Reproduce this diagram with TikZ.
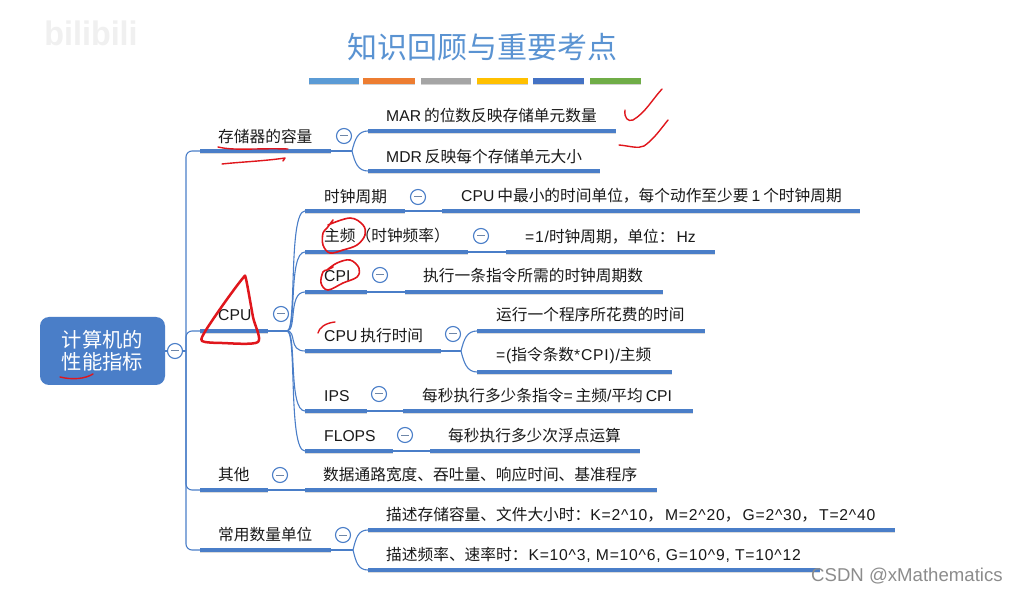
\documentclass[tikz,border=0pt]{standalone}
\usepackage{fontspec}
\setmainfont{Liberation Sans}
\newfontfamily\zh{Noto Sans CJK SC}
\newfontfamily\ls[LetterSpace=5]{Liberation Sans}
\usetikzlibrary{shadows}
\definecolor{mapblue}{HTML}{4A7EC8}
\definecolor{inkred}{HTML}{E0161C}
\definecolor{titleblue}{HTML}{5A93D2}
\tikzset{
  conn/.style={draw=mapblue,line width=1.1pt},
  barline/.style={draw=mapblue,line width=4.4pt},
  barshade/.style={draw=black!14,line width=4.4pt},
  lab/.style={anchor=west,inner sep=0pt,font=\fontsize{15.7}{18}\selectfont,text=black!90},
  btn/.style={circle,draw=mapblue,fill=white,line width=1.1pt,minimum size=15pt,inner sep=0pt},
  ink/.style={draw=inkred,line width=1.4pt,line cap=round,line join=round},
  inkb/.style={draw=inkred,line width=2.5pt,line cap=round,line join=round},
  swatch/.style={line width=5.5pt},
}
\newcommand{\gp}{\hspace{3pt}}
% name, x1, x2, ybar, text x, text y, text
\newcommand{\topicbar}[7]{%
  \coordinate (#1-l) at (#2,#4);
  \coordinate (#1-r) at (#3,#4);
  \draw[barshade] ([yshift=-0.8pt]#1-l) -- ([yshift=-0.8pt]#1-r);
  \draw[barline] (#1-l) -- (#1-r);
  \node[lab] (#1-t) at (#5,#6) {#7};
}
\newcommand{\minusbtn}[3]{%
  \node[btn] (#1) at (#2,#3) {};
  \draw[draw=black!35!mapblue!70!white,line width=1pt] ([xshift=-4pt]#1.center) -- ([xshift=4pt]#1.center);
}
\begin{document}
\begin{tikzpicture}[x=1pt,y=-1pt]
\useasboundingbox (0,0) rectangle (1020,593);
\fill[white] (0,0) rectangle (1020,593);
% watermark
\node[inner sep=0pt,text=black!6,font=\fontsize{34}{34}\selectfont\bfseries,xscale=0.95] (wm) at (91,33) {bilibili};
% title
\node[inner sep=0pt,text=titleblue,font=\fontsize{30}{34}\selectfont\zh] (title) at (482,47) {知识回顾与重要考点};
% swatches
\foreach \a/\b/\c in {309/359/5B9BD5,363/415/ED7D31,421/471/A5A5A5,477/528/FFC000,533/584/4472C4,590/641/70AD47}{
  \definecolor{sw}{HTML}{\c}
  \draw[black!18,swatch] (\a,82.5) -- (\b,82.5);
  \draw[sw,swatch] (\a,81) -- (\b,81);
}
% connectors first
\coordinate (trunkj) at (186,351);
\coordinate (a-l) at (200,151); \coordinate (b-l) at (200,331);
\coordinate (c-l) at (200,490); \coordinate (d-l) at (200,550);
\coordinate (a-j) at (352,151); \coordinate (b-j) at (287,331);
\coordinate (be-j) at (461,351); \coordinate (d-j) at (353,550);
\draw[conn] (165,351) -- (trunkj);
\begin{scope}[rounded corners=6pt]
\draw[conn] (trunkj) |- (a-l);
\draw[conn] (trunkj) |- (b-l);
\draw[conn] (trunkj) |- (c-l);
\draw[conn] (trunkj) |- (d-l);
\end{scope}
% level 1
\topicbar{a}{200}{331}{151}{218}{136}{\zh 存储器的容量}
\topicbar{b}{200}{268}{331}{218}{315}{CPU}
\topicbar{c}{200}{268}{490}{218}{475}{\zh 其他}
\topicbar{d}{200}{331}{550}{218}{535}{\zh 常用数量单位}
% storage children
\topicbar{a1}{368}{616}{131}{386}{116}{MAR\gp{\zh 的位数反映存储单元数量}}
\topicbar{a2}{368}{600}{171}{386}{157}{MDR\gp{\zh 反映每个存储单元大小}}
\draw[conn] (a-r) -- (a-j);
\draw[conn] (a-j) .. controls +(3,-12) and +(-10,0) .. (a1-l);
\draw[conn] (a-j) .. controls +(3,12) and +(-10,0) .. (a2-l);
% cpu children
\topicbar{b1}{305}{405}{211}{324}{197}{\zh 时钟周期}
\topicbar{b2}{305}{468}{252}{324}{236}{\zh 主频（时钟频率）}
\topicbar{b3}{305}{367}{292}{324}{276}{CPI}
\topicbar{b4}{305}{441}{351}{324}{336}{CPU\gp{\zh 执行时间}}
\topicbar{b5}{305}{367}{411}{324}{396}{IPS}
\topicbar{b6}{305}{393}{451}{324}{436}{FLOPS}
\draw[conn] (b-r) -- (b-j);
\foreach \n in {b1,b2,b3,b4,b5,b6}{
  \draw[conn] (b-j) .. controls +(10,0) and +(-17,0) .. (\n-l);
}
% grandchildren
\topicbar{b1x}{442}{860}{211}{461}{196}{CPU\gp{\zh 中最小的时间单位，每个动作至少要}\gp 1\gp{\zh 个时钟周期}}
\topicbar{b2x}{506}{715}{252}{525}{237}{{\ls =1/}{\zh 时钟周期，单位：}\hspace{2pt}Hz}
\topicbar{b3x}{405}{663}{292}{423}{276}{\zh 执行一条指令所需的时钟周期数}
\topicbar{b4a}{477}{705}{331}{496}{315}{\zh 运行一个程序所花费的时间}
\topicbar{b4b}{477}{672}{372}{496}{356}{{\ls =(}{\zh 指令条数}{\ls *CPI)/}{\zh 主频}}
\topicbar{b5x}{403}{693}{411}{422}{396}{{\zh 每秒执行多少条指令}=\gp{\zh 主频}/{\zh 平均}\gp CPI}
\topicbar{b6x}{430}{640}{451}{448}{436}{\zh 每秒执行多少次浮点运算}
\topicbar{cx}{305}{657}{490}{323}{475}{\zh 数据通路宽度、吞吐量、响应时间、基准程序}
\topicbar{d1}{368}{895}{530}{386}{515}{{\zh 描述存储容量、文件大小时：}{\ls K=2\string^10}{\zh ，}\hspace{2pt}{\ls M=2\string^20}{\zh ，}\hspace{2pt}{\ls G=2\string^30}{\zh ，}\hspace{2pt}{\ls T=2\string^40}}
\topicbar{d2}{368}{820}{570}{386}{555}{{\zh 描述频率、速率时：}\hspace{1pt}{\ls K=10\string^3, M=10\string^6, G=10\string^9, T=10\string^12}}
\draw[conn] (b1-r) -- (b1x-l);
\draw[conn] (b2-r) -- (b2x-l);
\draw[conn] (b3-r) -- (b3x-l);
\draw[conn] (b4-r) -- (be-j);
\draw[conn] (be-j) .. controls +(3,-12) and +(-10,0) .. (b4a-l);
\draw[conn] (be-j) .. controls +(3,12) and +(-10,0) .. (b4b-l);
\draw[conn] (b5-r) -- (b5x-l);
\draw[conn] (b6-r) -- (b6x-l);
\draw[conn] (c-r) -- (cx-l);
\draw[conn] (d-r) -- (d-j);
\draw[conn] (d-j) .. controls +(3,-12) and +(-10,0) .. (d1-l);
\draw[conn] (d-j) .. controls +(3,12) and +(-10,0) .. (d2-l);
% root
\node[fill=mapblue,rounded corners=9pt,minimum width=125pt,minimum height=68pt,inner sep=0pt,align=center,text=white,font=\fontsize{20.3}{22}\selectfont\zh] (root) at (102.5,351) {计算机的\\性能指标};
% buttons
\minusbtn{r0}{175}{351}
\minusbtn{ba}{344}{136}
\minusbtn{bb}{281}{314}
\minusbtn{bc}{280}{475}
\minusbtn{bd}{343}{535}
\minusbtn{bb1}{418}{197}
\minusbtn{bb2}{481}{236}
\minusbtn{bb3}{380}{275}
\minusbtn{bb4}{453}{334}
\minusbtn{bb5}{379}{394}
\minusbtn{bb6}{405}{435}
% red ink
\draw[ink] (218,147) .. controls (235,151) and (255,148) .. (288,149);
\draw[ink] (222,164) .. controls (240,162) and (265,161) .. (285,158) -- (283,161);
\draw[ink] (625,110) .. controls (624,118) and (628,122) .. (633,120) .. controls (645,113) and (652,100) .. (662,89);
\draw[ink] (619,145) .. controls (630,146) and (638,149) .. (644,146) .. controls (653,140) and (660,130) .. (668,120);
\draw[inkb] plot[smooth cycle,tension=0.45] coordinates {(243,278) (225,302) (206,330) (202,341) (222,343) (258,342) (253,317) (246,279)};
\draw[ink] (60,377) .. controls (72,380) and (85,379) .. (93,374);
\draw[ink,line width=1.6pt] plot[smooth,tension=0.6] coordinates {(333,220) (327,228) (323,233) (323,245) (330,253) (343,250) (357,245) (365,235) (363,225) (350,218) (328,225)};
\draw[ink,line width=1.6pt] plot[smooth,tension=0.6] coordinates {(333,267) (327,270) (323,272) (321,283) (328,290) (343,283) (357,277) (359,268) (350,260) (337,263) (327,270)};
\draw[ink] (318,333) .. controls (319,328) and (325,323) .. (335,322);
% csdn
\node[anchor=west,inner sep=0pt,text=black!45,font=\fontsize{18.6}{20}\selectfont] (csdn) at (811,576) {CSDN @xMathematics};
\end{tikzpicture}
\end{document}
